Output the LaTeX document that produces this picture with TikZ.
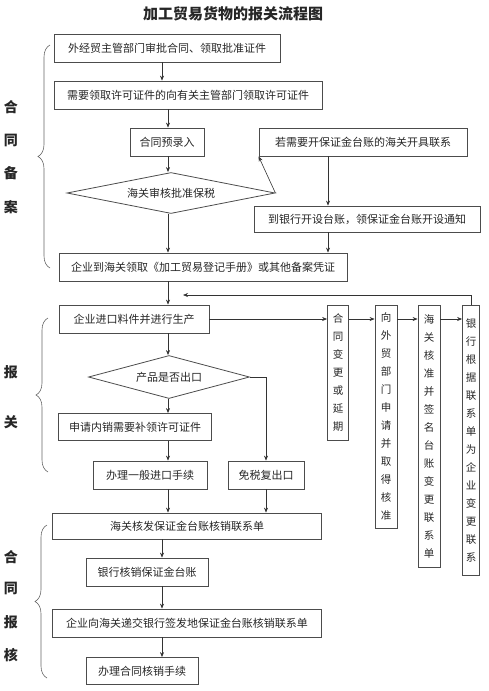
\documentclass[tikz,border=0pt]{standalone}
\usepackage{fontspec}
\newfontfamily\cjk{Noto Sans CJK SC}
\usetikzlibrary{shapes.geometric,arrows.meta,decorations.pathreplacing}

\begin{document}
\begin{tikzpicture}[x=1pt,y=-1pt,
    every node/.style={font=\cjk\fontsize{11}{13}\selectfont, text=black!85},
    box/.style={draw=black!70, line width=0.8pt, inner sep=0pt},
    vbox/.style={box, anchor=north, align=center, font=\cjk\fontsize{10.5}{18}\selectfont},
    check/.style={diamond, draw=black!70, line width=0.8pt, inner sep=0pt, aspect=4},
    arr/.style={-{Stealth[length=5pt,width=4pt]}, draw=black!80, line width=0.6pt},
    brace/.style={decorate, decoration={brace, amplitude=12pt}, draw=black!60, line width=0.6pt},
    side/.style={font=\cjk\bfseries\fontsize{14}{14}\selectfont}]
    \useasboundingbox (0,0) rectangle (488,691);

    \node[font=\cjk\bfseries\fontsize{15}{15}\selectfont] (title) at (233,14) {加工贸易货物的报关流程图};

    % 合同备案
    \node[box, minimum width=226pt, minimum height=28pt] (approve) at (167,48) {外经贸主管部门审批合同、领取批准证件};
    \node[box, minimum width=268pt, minimum height=28pt] (permit) at (188,95) {需要领取许可证件的向有关主管部门领取许可证件};
    \node[box, minimum width=74pt, minimum height=28pt] (prerec) at (167,142) {合同预录入};
    \node[box, minimum width=208pt, minimum height=28pt] (notice) at (363,142) {若需要开保证金台账的海关开具联系};
    \node[check, minimum width=208pt, minimum height=41pt] (bond) at (171,193) {海关审核批准保税};
    \node[box, minimum width=226pt, minimum height=26pt] (ledger) at (367,219) {到银行开设台账，领保证金台账开设通知};
    \node[box, minimum width=288pt, minimum height=28pt] (manual) at (203,267) {企业到海关领取《加工贸易登记手册》或其他备案凭证};

    % 报关
    \node[box, minimum width=150pt, minimum height=28pt] (import) at (134,319) {企业进口料件并进行生产};
    \node[check, minimum width=161pt, minimum height=43pt] (export) at (169,377) {产品是否出口};
    \node[box, minimum width=153pt, minimum height=27pt] (domestic) at (135,427) {申请内销需要补领许可证件};
    \node[box, minimum width=114pt, minimum height=28pt] (general) at (150,475) {办理一般进口手续};
    \node[box, minimum width=76pt, minimum height=28pt] (reexport) at (266,475) {免税复出口};

    % 变更
    \node[vbox, minimum width=21pt, minimum height=135pt] (change) at (338,305) {合\\同\\变\\更\\或\\延\\期};
    \node[vbox, minimum width=22pt, minimum height=223pt] (apply) at (386,305) {向\\外\\贸\\部\\门\\申\\请\\并\\取\\得\\核\\准};
    \node[vbox, minimum width=22pt, minimum height=262pt] (sign) at (429,305) {海\\关\\核\\准\\并\\签\\名\\台\\账\\变\\更\\联\\系\\单};
    \node[vbox, minimum width=17pt, minimum height=270pt] (alter) at (471,305) {银\\行\\根\\据\\联\\系\\单\\为\\企\\业\\变\\更\\联\\系};

    % 合同报核
    \node[box, minimum width=269pt, minimum height=26pt] (verify) at (187,526) {海关核发保证金台账核销联系单};
    \node[box, minimum width=122pt, minimum height=28pt] (cancel) at (147,572) {银行核销保证金台账};
    \node[box, minimum width=269pt, minimum height=28pt] (submit) at (187,623) {企业向海关递交银行签发地保证金台账核销联系单};
    \node[box, minimum width=112pt, minimum height=27pt] (close) at (142,671) {办理合同核销手续};

    \coordinate (spine) at (168,0);
    \coordinate (lower) at (162,0);
    \coordinate (rcol) at (328,0);
    \coordinate (merge) at (183,295);

    \draw[arr] (approve.south -| lower) -- (permit.north -| lower);
    \draw[arr] (permit.south -| spine) -- (prerec.north -| spine);
    \draw[arr] (prerec.south -| spine) -- (bond.north -| spine);
    \draw[arr] (bond.east) -- (notice.south west);
    \draw[arr] (notice.south -| rcol) -- (ledger.north -| rcol);
    \draw[arr] (bond.south -| spine) -- (manual.north -| spine);
    \draw[arr] (ledger.south -| rcol) -- (manual.north -| rcol);
    \draw[arr] (manual.south -| spine) -- (import.north -| spine);
    \draw[arr] (alter.north) |- (merge);
    \draw[arr] (import.east) -- (import.east -| change.west);
    \draw[arr] (change.east |- import.east) -- (apply.west |- import.east);
    \draw[arr] (apply.east |- import.east) -- (sign.west |- import.east);
    \draw[arr] (sign.east |- import.east) -- (alter.west |- import.east);
    \draw[arr] (import.south -| spine) -- (export.north -| spine);
    \draw[arr] (export.south -| spine) -- (domestic.north -| spine);
    \draw[arr] (export.east) -| (reexport.north);
    \draw[arr] (domestic.south -| spine) -- (general.north -| spine);
    \draw[arr] (general.south -| spine) -- (verify.north -| spine);
    \draw[arr] (reexport.south) -- (verify.north -| reexport.south);
    \draw[arr] (verify.south -| lower) -- (cancel.north -| lower);
    \draw[arr] (cancel.south -| lower) -- (submit.north -| lower);
    \draw[arr] (submit.south -| lower) -- (close.north -| lower);

    \draw[brace] (50,268) -- (50,45);
    \draw[brace] (48,472) -- (48,318);
    \draw[brace] (47,678) -- (47,525);

    \node[side] (file1) at (11,107) {合};
    \node[side] (file2) at (11,140) {同};
    \node[side] (file3) at (11,173) {备};
    \node[side] (file4) at (11,207) {案};
    \node[side] (decl1) at (11,372) {报};
    \node[side] (decl2) at (11,422) {关};
    \node[side] (check1) at (11,557) {合};
    \node[side] (check2) at (11,588) {同};
    \node[side] (check3) at (11,622) {报};
    \node[side] (check4) at (11,655) {核};
\end{tikzpicture}
\end{document}
